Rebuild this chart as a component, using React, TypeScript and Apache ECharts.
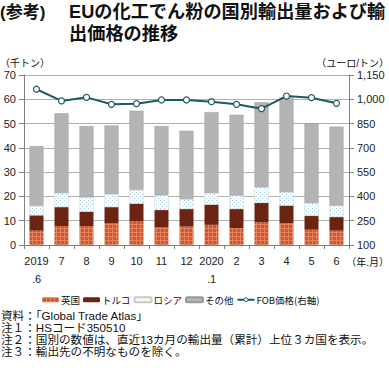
import React, { useEffect, useRef } from "react";
import * as echarts from "echarts";

const categories = ["2019\n.6", "7", "8", "9", "10", "11", "12", "2020\n.1", "2", "3", "4", "5", "6"];
const uk = [5.9, 7.8, 7.8, 8.9, 9.7, 7.2, 7.6, 8.3, 7.0, 9.3, 9.0, 6.3, 5.9];
const turkey = [6.3, 7.8, 5.9, 6.7, 7.3, 7.2, 7.2, 8.3, 7.8, 8.0, 7.2, 5.7, 5.6];
const russia = [4.0, 5.8, 6.0, 5.4, 5.7, 6.1, 4.1, 4.8, 5.6, 6.5, 5.6, 5.3, 4.8];
const other = [24.5, 32.8, 29.3, 28.2, 32.6, 28.5, 28.1, 33.3, 33.2, 35.0, 38.9, 32.8, 32.4];
const fobPrice = [1062, 990, 1012, 969, 973, 996, 996, 985, 969, 942, 1020, 1010, 975];
const leftTicks = { min: 0, max: 70, interval: 10 };
const rightTicks = { min: 100, max: 1150, interval: 150 };
const notes = [
  "資料：「Global Trade Atlas」",
  "注１：HSコード350510",
  "注２：国別の数値は、直近13カ月の輸出量（累計）上位３カ国を表示。",
  "注３：輸出先の不明なものを除く。",
];

const FONT = "'Liberation Sans', 'Noto Sans CJK JP', sans-serif";
const JP = "'Noto Sans CJK JP', 'Liberation Sans', sans-serif";

function makePattern(kind: "uk" | "russia"): string {
  const c = document.createElement("canvas");
  c.width = 4;
  c.height = 4;
  const ctx = c.getContext("2d")!;
  if (kind === "uk") {
    ctx.fillStyle = "#d4552d";
    ctx.fillRect(0, 0, 4, 4);
    ctx.fillStyle = "#e3825f";
    ctx.fillRect(0, 0, 1, 4);
    ctx.fillRect(0, 0, 4, 1);
  } else {
    ctx.fillStyle = "#ffffff";
    ctx.fillRect(0, 0, 4, 4);
    ctx.fillStyle = "#a9cfe0";
    ctx.fillRect(0, 0, 1, 1);
    ctx.fillRect(2, 2, 1, 1);
  }
  return c.toDataURL();
}

function txt(x: number, y: number, text: string, font: string, align = "left", lh?: number) {
  return {
    type: "text",
    x,
    y,
    style: { text, font, fill: "#111", textAlign: align, textVerticalAlign: "middle", ...(lh ? { lineHeight: lh } : {}) },
  };
}

export default function App() {
  const ref = useRef<HTMLDivElement>(null);
  useEffect(() => {
    const chart = echarts.init(ref.current!, undefined, { renderer: "svg" });
    const ukPat = { image: makePattern("uk"), repeat: "repeat" };
    const ruPat = { image: makePattern("russia"), repeat: "repeat" };
    const offset = rightTicks.min;
    const lineColor = "#1d5a61";
    chart.setOption({
      animation: false,
      textStyle: { fontFamily: FONT },
      grid: { left: 24, right: 40, top: 75, bottom: 123 },
      graphic: [
        txt(0, 12, "(参考)", `bold 17px ${FONT}`, "left", 20),
        txt(69, 12, "EUの化工でん粉の国別輸出量および輸", `bold 18.2px ${FONT}`, "left", 20),
        txt(69, 34, "出価格の推移", `bold 18.2px ${FONT}`, "left", 20),
        txt(0, 63, "（千トン）", `10px ${FONT}`, "left", 10),
        txt(389, 63, "（ユーロ/トン）", `10px ${FONT}`, "right", 10),
        txt(389, 262, "（年.月）", `10px ${FONT}`, "right", 10),
        ...notes.map((n, i) => txt(1, 315 + i * 12.3, n, `11.6px ${FONT}`, "left", 12)),
      ],
      legend: {
        left: 37,
        top: 290,
        itemWidth: 17,
        itemHeight: 5,
        itemGap: 3,
        textStyle: { fontFamily: JP, fontSize: 9.5, color: "#111", padding: [0, 0, 0, -3] },
        data: ["英国", "トルコ", "ロシア", "その他", { name: "FOB価格(右軸)", itemStyle: { color: "#fff", borderColor: lineColor, borderWidth: 1 } }],
      },
      xAxis: {
        type: "category",
        data: categories,
        axisLine: { lineStyle: { color: "#808080" } },
        axisTick: { show: true, length: 4, lineStyle: { color: "#808080" } },
        axisLabel: { fontSize: 11, color: "#222", lineHeight: 18, margin: 7, interval: 0 },
      },
      yAxis: [
        {
          type: "value",
          min: leftTicks.min,
          max: leftTicks.max,
          interval: leftTicks.interval,
          axisLine: { show: true, lineStyle: { color: "#808080" } },
          axisTick: { show: true, length: 5, lineStyle: { color: "#808080" } },
          axisLabel: { fontSize: 11, color: "#222", margin: 8 },
          splitLine: { lineStyle: { color: "#b0b0b0" } },
        },
        {
          type: "value",
          min: 0,
          max: rightTicks.max - offset,
          interval: rightTicks.interval,
          position: "right",
          axisLine: { show: true, lineStyle: { color: "#808080" } },
          axisTick: { show: true, length: 5, lineStyle: { color: "#808080" } },
          axisLabel: {
            fontSize: 11,
            color: "#222",
            margin: 8,
            formatter: (v: number) => (v + offset).toLocaleString("en-US"),
          },
          splitLine: { show: false },
        },
      ],
      series: [
        { name: "英国", type: "bar", stack: "s", barWidth: "56%", data: uk, itemStyle: { color: ukPat } },
        { name: "トルコ", type: "bar", stack: "s", data: turkey, itemStyle: { color: "#6a2411" } },
        { name: "ロシア", type: "bar", stack: "s", data: russia, itemStyle: { color: ruPat, borderColor: "#c8c8c8", borderWidth: 0.5 } },
        { name: "その他", type: "bar", stack: "s", data: other, itemStyle: { color: "#b4b4b4", borderColor: "#9a9a9a", borderWidth: 0.5 } },
        {
          name: "FOB価格(右軸)",
          type: "line",
          yAxisIndex: 1,
          data: fobPrice.map((v) => v - offset),
          symbol: "circle",
          symbolSize: 6,
          lineStyle: { color: lineColor, width: 2 },
          itemStyle: { color: "#fff", borderColor: lineColor, borderWidth: 1.2 },
        },
      ],
    });
    return () => chart.dispose();
  }, []);
  return <div ref={ref} style={{ width: 389, height: 368, position: "absolute", left: 0, top: 0 }} />;
}
